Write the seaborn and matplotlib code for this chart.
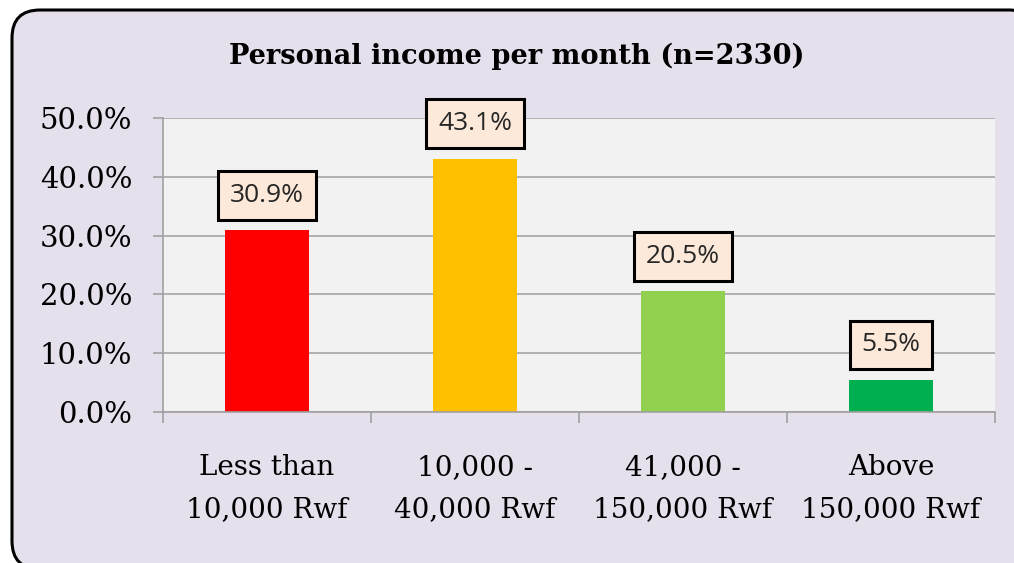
import pandas as pd
import seaborn as sns
import matplotlib
matplotlib.use('Agg')
import matplotlib.pyplot as plt
from matplotlib.patches import FancyBboxPatch
from matplotlib.ticker import FuncFormatter

categories = ['Less than\n10,000 Rwf', '10,000 -\n40,000 Rwf', '41,000 -\n150,000 Rwf', 'Above\n150,000 Rwf']
shares = [30.9, 43.1, 20.5, 5.5]
colors = ['#FF0000', '#FFC000', '#92D050', '#00B050']

df = pd.DataFrame({'income': categories, 'share': shares})

sns.set_style('white')
fig = plt.figure(figsize=(10.14, 5.63), dpi=100)
fig.patch.set_facecolor('white')

# rounded lavender frame, runs off the right and bottom edge like the original
frame = FancyBboxPatch((0.12, -0.06), 10.25, 5.59,
                       boxstyle='round,pad=0,rounding_size=0.28',
                       transform=fig.dpi_scale_trans,
                       facecolor='#E5E0EC', edgecolor='black', linewidth=2.2,
                       zorder=-1)
fig.patches.append(frame)

ax = fig.add_axes([0.1607, 0.2682, 0.8206, 0.5222])
sns.barplot(data=df, x='income', y='share', hue='income', palette=colors,
            legend=False, width=0.4, saturation=1, linewidth=0, ax=ax)

ax.set_facecolor('#F2F2F2')
ax.set_ylim(0, 50)
ax.set_xlim(-0.5, 3.5)
ax.set_yticks([0, 10, 20, 30, 40, 50])
ax.yaxis.set_major_formatter(FuncFormatter(lambda v, p: f'{v:.1f}%'))
ax.grid(axis='y', color='#A6A6A6', linewidth=1.2)
ax.set_axisbelow(True)
for side in ['top', 'right']:
    ax.spines[side].set_visible(False)
for side in ['left', 'bottom']:
    ax.spines[side].set_color('#A0A0A0')
    ax.spines[side].set_linewidth(1.2)

# x ticks sit between categories, labels go in the middle
ax.set_xticks([-0.5, 0.5, 1.5, 2.5, 3.5])
ax.set_xticklabels([])
ax.set_xticks(range(len(categories)), minor=True)
ax.set_xticklabels(categories, minor=True, family='DejaVu Serif', fontsize=20,
                   linespacing=1.75, color='black')
ax.tick_params(axis='x', which='major', bottom=True, length=8, width=1.2,
               color='#A0A0A0', direction='out')
ax.tick_params(axis='x', which='minor', bottom=True, length=0, pad=30)
ax.tick_params(axis='y', left=True, length=7, width=1.2, color='#A0A0A0',
               direction='out', labelsize=21, pad=15, labelcolor='black')
for lab in ax.get_yticklabels():
    lab.set_family('DejaVu Serif')
ax.set_xlabel('')
ax.set_ylabel('')

for i, v in enumerate(shares):
    ax.annotate(f'{v}%', xy=(i, v), xytext=(0, 25), textcoords='offset points',
                ha='center', va='center', fontsize=19, family='Open Sans', color='#262626',
                bbox=dict(boxstyle='square,pad=0.45', facecolor='#FDE9D9',
                          edgecolor='black', linewidth=2.2))

fig.text(0.51, 0.9, 'Personal income per month (n=2330)', ha='center', va='center',
         fontsize=19.6, fontweight='bold', family='DejaVu Serif', color='black')

plt.savefig('out.png', dpi=100)
